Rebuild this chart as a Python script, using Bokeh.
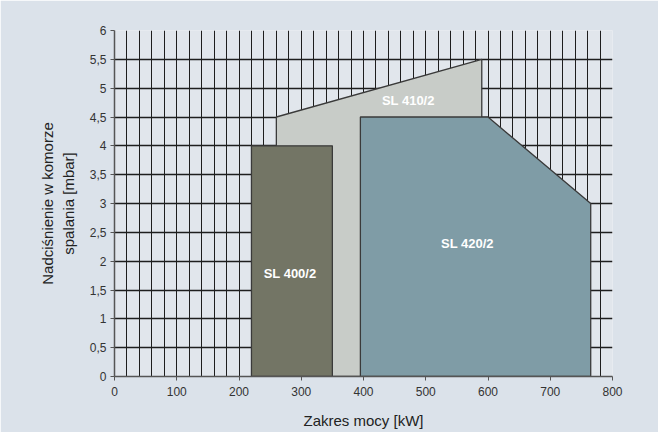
from bokeh.plotting import figure
from bokeh.models import FixedTicker, ColumnDataSource
from bokeh.core.properties import value
from bokeh.embed import file_html
from bokeh.resources import INLINE

# Data
sl410_x = [260, 260, 590, 590]
sl410_y = [0, 4.5, 5.5, 0]
sl400_x = [220, 220, 350, 350]
sl400_y = [0, 4, 4, 0]
sl420_x = [395, 395, 600, 765, 765]
sl420_y = [0, 4.5, 4.5, 3, 0]

label_names = ["SL 400/2", "SL 410/2", "SL 420/2"]
label_x = [282, 472, 567]
label_y = [1.78, 4.79, 2.3]

x_ticks = [0, 100, 200, 300, 400, 500, 600, 700, 800]
y_ticks = [0, 0.5, 1, 1.5, 2, 2.5, 3, 3.5, 4, 4.5, 5, 5.5, 6]
y_tick_labels = ["0", "0,5", "1", "1,5", "2", "2,5", "3", "3,5", "4", "4,5", "5", "5,5", "6"]

FONT = "Liberation Sans"

p = figure(width=658, height=432, output_backend="svg", toolbar_location=None,
           x_range=(0, 800), y_range=(0, 6),
           frame_width=498, frame_height=346,
           min_border_left=114, min_border_right=46, min_border_top=30, min_border_bottom=56)

p.border_fill_color = "#dbe2ea"
p.background_fill_color = "#e1e6ec"
p.outline_line_color = None

# grid
p.xgrid.ticker = FixedTicker(ticks=list(range(0, 801, 20)))
p.ygrid.ticker = FixedTicker(ticks=y_ticks)
p.xgrid.grid_line_color = "#1e1e1e"
p.ygrid.grid_line_color = "#1e1e1e"
p.xgrid.grid_line_width = 1
p.ygrid.grid_line_width = 1.3

# axes
p.xaxis.ticker = FixedTicker(ticks=x_ticks)
p.yaxis.ticker = FixedTicker(ticks=y_ticks)
p.yaxis.major_label_overrides = {t: l for t, l in zip(y_ticks, y_tick_labels)}
for ax in (p.xaxis[0], p.yaxis[0]):
    ax.axis_line_color = "#555555"
    ax.axis_line_width = 1.5
    ax.major_tick_line_color = "#555555"
    ax.major_tick_out = 4
    ax.major_tick_in = 0
    ax.minor_tick_line_color = None
    ax.major_label_text_font = FONT
    ax.major_label_text_font_size = "12px"
    ax.major_label_text_color = "#333333"
    ax.axis_label_text_font = FONT
    ax.axis_label_text_font_style = "normal"
    ax.axis_label_text_font_size = "15px"
    ax.axis_label_text_color = "#222222"

p.xaxis.axis_label = "Zakres mocy [kW]"
p.xaxis.axis_label_standoff = 13
p.xaxis.major_label_standoff = 6
p.yaxis.axis_label = "Nadciśnienie w komorze\nspalania [mbar]"
p.yaxis.axis_label_standoff = 10
p.yaxis.major_label_standoff = 4

edge = "#3a3a3a"
p.patch(sl410_x, sl410_y, fill_color="#c8ccc8", line_color=edge, line_width=1.3)
p.patch(sl400_x, sl400_y, fill_color="#737565", line_color=edge, line_width=1.3)
p.patch(sl420_x, sl420_y, fill_color="#7f9ca6", line_color=edge, line_width=1.3)

src = ColumnDataSource(dict(x=label_x, y=label_y, t=label_names))
p.text(x="x", y="y", text="t", source=src, text_color="white",
       text_font=value(FONT), text_font_size="13px", text_font_style="bold",
       text_align="center", text_baseline="middle")

open("out.html", "w").write(file_html(p, INLINE))
